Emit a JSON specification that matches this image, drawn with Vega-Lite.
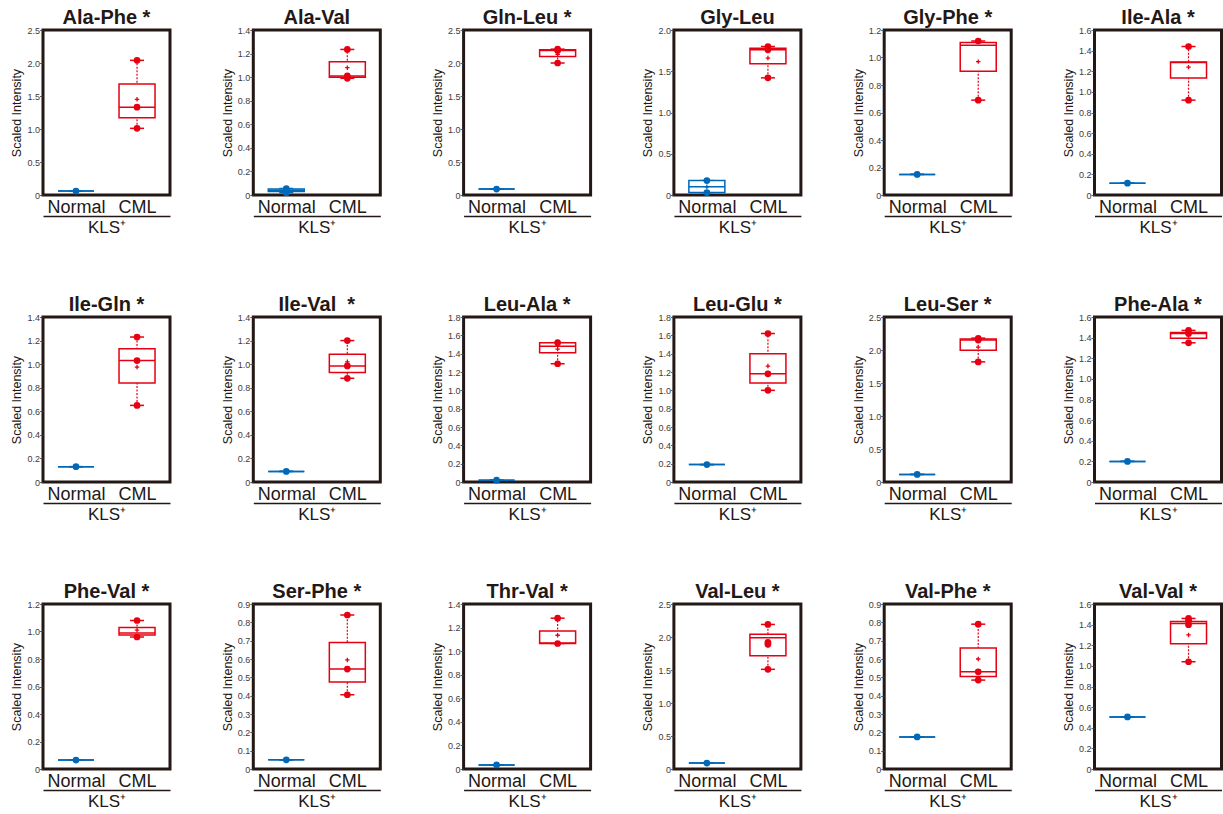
{
  "$schema": "https://vega.github.io/schema/vega-lite/v6.json",
  "background": "white",
  "padding": {"left": 9, "top": 6, "right": 5, "bottom": 2},
  "datasets": {
    "boxes": [
      {"panel": "Ala-Phe", "group": "Normal", "min": 0.06, "q1": 0.06, "median": 0.06, "q3": 0.06, "max": 0.06, "mean": 0.06},
      {"panel": "Ala-Phe", "group": "CML", "min": 1.01, "q1": 1.17, "median": 1.33, "q3": 1.68, "max": 2.04, "mean": 1.45},
      {"panel": "Ala-Val", "group": "Normal", "min": 0.02, "q1": 0.03, "median": 0.04, "q3": 0.05, "max": 0.055, "mean": 0.04},
      {"panel": "Ala-Val", "group": "CML", "min": 0.99, "q1": 1.0, "median": 1.01, "q3": 1.13, "max": 1.235, "mean": 1.08},
      {"panel": "Gln-Leu", "group": "Normal", "min": 0.09, "q1": 0.09, "median": 0.09, "q3": 0.09, "max": 0.09, "mean": 0.09},
      {"panel": "Gln-Leu", "group": "CML", "min": 2.0, "q1": 2.1, "median": 2.19, "q3": 2.2, "max": 2.21, "mean": 2.13},
      {"panel": "Gly-Leu", "group": "Normal", "min": 0.03, "q1": 0.03, "median": 0.1, "q3": 0.175, "max": 0.175, "mean": 0.1},
      {"panel": "Gly-Leu", "group": "CML", "min": 1.42, "q1": 1.59, "median": 1.76, "q3": 1.78, "max": 1.8, "mean": 1.66},
      {"panel": "Gly-Phe", "group": "Normal", "min": 0.15, "q1": 0.15, "median": 0.15, "q3": 0.15, "max": 0.15, "mean": 0.15},
      {"panel": "Gly-Phe", "group": "CML", "min": 0.69, "q1": 0.9, "median": 1.09, "q3": 1.11, "max": 1.12, "mean": 0.97},
      {"panel": "Ile-Ala", "group": "Normal", "min": 0.115, "q1": 0.115, "median": 0.115, "q3": 0.115, "max": 0.115, "mean": 0.115},
      {"panel": "Ile-Ala", "group": "CML", "min": 0.92, "q1": 1.135, "median": 1.285, "q3": 1.29, "max": 1.44, "mean": 1.24},
      {"panel": "Ile-Gln", "group": "Normal", "min": 0.13, "q1": 0.13, "median": 0.13, "q3": 0.13, "max": 0.13, "mean": 0.13},
      {"panel": "Ile-Gln", "group": "CML", "min": 0.65, "q1": 0.84, "median": 1.03, "q3": 1.13, "max": 1.23, "mean": 0.975},
      {"panel": "Ile-Val", "group": "Normal", "min": 0.09, "q1": 0.09, "median": 0.09, "q3": 0.09, "max": 0.09, "mean": 0.09},
      {"panel": "Ile-Val", "group": "CML", "min": 0.88, "q1": 0.93, "median": 0.985, "q3": 1.085, "max": 1.2, "mean": 1.02},
      {"panel": "Leu-Ala", "group": "Normal", "min": 0.02, "q1": 0.02, "median": 0.02, "q3": 0.02, "max": 0.02, "mean": 0.02},
      {"panel": "Leu-Ala", "group": "CML", "min": 1.29, "q1": 1.41, "median": 1.48, "q3": 1.52, "max": 1.52, "mean": 1.45},
      {"panel": "Leu-Glu", "group": "Normal", "min": 0.19, "q1": 0.19, "median": 0.19, "q3": 0.19, "max": 0.19, "mean": 0.19},
      {"panel": "Leu-Glu", "group": "CML", "min": 1.0, "q1": 1.08, "median": 1.18, "q3": 1.4, "max": 1.62, "mean": 1.265},
      {"panel": "Leu-Ser", "group": "Normal", "min": 0.115, "q1": 0.115, "median": 0.115, "q3": 0.115, "max": 0.115, "mean": 0.115},
      {"panel": "Leu-Ser", "group": "CML", "min": 1.82, "q1": 1.995, "median": 2.15, "q3": 2.165, "max": 2.18, "mean": 2.045},
      {"panel": "Phe-Ala", "group": "Normal", "min": 0.2, "q1": 0.2, "median": 0.2, "q3": 0.2, "max": 0.2, "mean": 0.2},
      {"panel": "Phe-Ala", "group": "CML", "min": 1.35, "q1": 1.395, "median": 1.44, "q3": 1.45, "max": 1.47, "mean": 1.42},
      {"panel": "Phe-Val", "group": "Normal", "min": 0.065, "q1": 0.065, "median": 0.065, "q3": 0.065, "max": 0.065, "mean": 0.065},
      {"panel": "Phe-Val", "group": "CML", "min": 0.96, "q1": 0.975, "median": 0.99, "q3": 1.03, "max": 1.08, "mean": 1.01},
      {"panel": "Ser-Phe", "group": "Normal", "min": 0.05, "q1": 0.05, "median": 0.05, "q3": 0.05, "max": 0.05, "mean": 0.05},
      {"panel": "Ser-Phe", "group": "CML", "min": 0.405, "q1": 0.475, "median": 0.545, "q3": 0.69, "max": 0.84, "mean": 0.595},
      {"panel": "Thr-Val", "group": "Normal", "min": 0.035, "q1": 0.035, "median": 0.035, "q3": 0.035, "max": 0.035, "mean": 0.035},
      {"panel": "Thr-Val", "group": "CML", "min": 1.065, "q1": 1.065, "median": 1.07, "q3": 1.17, "max": 1.28, "mean": 1.135},
      {"panel": "Val-Leu", "group": "Normal", "min": 0.09, "q1": 0.09, "median": 0.09, "q3": 0.09, "max": 0.09, "mean": 0.09},
      {"panel": "Val-Leu", "group": "CML", "min": 1.51, "q1": 1.715, "median": 1.99, "q3": 2.04, "max": 2.19, "mean": 1.87},
      {"panel": "Val-Phe", "group": "Normal", "min": 0.175, "q1": 0.175, "median": 0.175, "q3": 0.175, "max": 0.175, "mean": 0.175},
      {"panel": "Val-Phe", "group": "CML", "min": 0.485, "q1": 0.505, "median": 0.53, "q3": 0.66, "max": 0.79, "mean": 0.6},
      {"panel": "Val-Val", "group": "Normal", "min": 0.505, "q1": 0.505, "median": 0.505, "q3": 0.505, "max": 0.505, "mean": 0.505},
      {"panel": "Val-Val", "group": "CML", "min": 1.04, "q1": 1.215, "median": 1.41, "q3": 1.43, "max": 1.46, "mean": 1.3}
    ],
    "points": [
      {"panel": "Ala-Phe", "group": "Normal", "value": 0.06},
      {"panel": "Ala-Phe", "group": "CML", "value": 1.01},
      {"panel": "Ala-Phe", "group": "CML", "value": 1.33},
      {"panel": "Ala-Phe", "group": "CML", "value": 2.04},
      {"panel": "Ala-Val", "group": "Normal", "value": 0.02},
      {"panel": "Ala-Val", "group": "Normal", "value": 0.055},
      {"panel": "Ala-Val", "group": "CML", "value": 0.99},
      {"panel": "Ala-Val", "group": "CML", "value": 1.01},
      {"panel": "Ala-Val", "group": "CML", "value": 1.235},
      {"panel": "Gln-Leu", "group": "Normal", "value": 0.09},
      {"panel": "Gln-Leu", "group": "CML", "value": 2.0},
      {"panel": "Gln-Leu", "group": "CML", "value": 2.19},
      {"panel": "Gln-Leu", "group": "CML", "value": 2.21},
      {"panel": "Gly-Leu", "group": "Normal", "value": 0.03},
      {"panel": "Gly-Leu", "group": "Normal", "value": 0.175},
      {"panel": "Gly-Leu", "group": "CML", "value": 1.42},
      {"panel": "Gly-Leu", "group": "CML", "value": 1.76},
      {"panel": "Gly-Leu", "group": "CML", "value": 1.8},
      {"panel": "Gly-Phe", "group": "Normal", "value": 0.15},
      {"panel": "Gly-Phe", "group": "CML", "value": 0.69},
      {"panel": "Gly-Phe", "group": "CML", "value": 1.12},
      {"panel": "Ile-Ala", "group": "Normal", "value": 0.115},
      {"panel": "Ile-Ala", "group": "CML", "value": 0.92},
      {"panel": "Ile-Ala", "group": "CML", "value": 1.44},
      {"panel": "Ile-Gln", "group": "Normal", "value": 0.13},
      {"panel": "Ile-Gln", "group": "CML", "value": 0.65},
      {"panel": "Ile-Gln", "group": "CML", "value": 1.03},
      {"panel": "Ile-Gln", "group": "CML", "value": 1.23},
      {"panel": "Ile-Val", "group": "Normal", "value": 0.09},
      {"panel": "Ile-Val", "group": "CML", "value": 0.88},
      {"panel": "Ile-Val", "group": "CML", "value": 0.985},
      {"panel": "Ile-Val", "group": "CML", "value": 1.2},
      {"panel": "Leu-Ala", "group": "Normal", "value": 0.02},
      {"panel": "Leu-Ala", "group": "CML", "value": 1.29},
      {"panel": "Leu-Ala", "group": "CML", "value": 1.52},
      {"panel": "Leu-Glu", "group": "Normal", "value": 0.19},
      {"panel": "Leu-Glu", "group": "CML", "value": 1.0},
      {"panel": "Leu-Glu", "group": "CML", "value": 1.18},
      {"panel": "Leu-Glu", "group": "CML", "value": 1.62},
      {"panel": "Leu-Ser", "group": "Normal", "value": 0.115},
      {"panel": "Leu-Ser", "group": "CML", "value": 1.82},
      {"panel": "Leu-Ser", "group": "CML", "value": 2.15},
      {"panel": "Leu-Ser", "group": "CML", "value": 2.175},
      {"panel": "Phe-Ala", "group": "Normal", "value": 0.2},
      {"panel": "Phe-Ala", "group": "CML", "value": 1.35},
      {"panel": "Phe-Ala", "group": "CML", "value": 1.44},
      {"panel": "Phe-Ala", "group": "CML", "value": 1.47},
      {"panel": "Phe-Val", "group": "Normal", "value": 0.065},
      {"panel": "Phe-Val", "group": "CML", "value": 0.96},
      {"panel": "Phe-Val", "group": "CML", "value": 1.08},
      {"panel": "Ser-Phe", "group": "Normal", "value": 0.05},
      {"panel": "Ser-Phe", "group": "CML", "value": 0.405},
      {"panel": "Ser-Phe", "group": "CML", "value": 0.545},
      {"panel": "Ser-Phe", "group": "CML", "value": 0.84},
      {"panel": "Thr-Val", "group": "Normal", "value": 0.035},
      {"panel": "Thr-Val", "group": "CML", "value": 1.065},
      {"panel": "Thr-Val", "group": "CML", "value": 1.28},
      {"panel": "Val-Leu", "group": "Normal", "value": 0.09},
      {"panel": "Val-Leu", "group": "CML", "value": 1.51},
      {"panel": "Val-Leu", "group": "CML", "value": 1.89},
      {"panel": "Val-Leu", "group": "CML", "value": 1.92},
      {"panel": "Val-Leu", "group": "CML", "value": 2.19},
      {"panel": "Val-Phe", "group": "Normal", "value": 0.175},
      {"panel": "Val-Phe", "group": "CML", "value": 0.485},
      {"panel": "Val-Phe", "group": "CML", "value": 0.53},
      {"panel": "Val-Phe", "group": "CML", "value": 0.79},
      {"panel": "Val-Val", "group": "Normal", "value": 0.505},
      {"panel": "Val-Val", "group": "CML", "value": 1.04},
      {"panel": "Val-Val", "group": "CML", "value": 1.4},
      {"panel": "Val-Val", "group": "CML", "value": 1.44},
      {"panel": "Val-Val", "group": "CML", "value": 1.46}
    ]
  },
  "columns": 6,
  "spacing": {"row": 122, "column": 83.3},
  "bounds": "flush",
  "resolve": {"scale": {"x": "independent", "y": "independent"}, "axis": {"x": "independent", "y": "independent"}},
  "concat": [
    {"width": 127, "height": 165, "title": "Ala-Phe *", "data": {"name": "boxes"}, "transform": [{"filter": "datum.panel === 'Ala-Phe'"}],
     "encoding": {"x": {"field": "group", "type": "nominal", "title": "KLS⁺", "scale": {"type": "point", "domain": ["Normal", "CML"], "padding": 0.54}}, "color": {"field": "group", "type": "nominal", "scale": {"domain": ["Normal", "CML"], "range": ["#0068B7", "#E60012"]}, "legend": null}},
     "layer": [
      {"mark": {"type": "rule", "strokeDash": [2, 1.5], "strokeWidth": 1.2}, "encoding": {"y": {"field": "min", "type": "quantitative", "title": "Scaled Intensity", "scale": {"domain": [0, 2.5], "nice": false}, "axis": {"values": [0, 0.5, 1, 1.5, 2, 2.5]}}, "y2": {"field": "max"}}},
      {"mark": {"type": "tick", "thickness": 1.5, "size": 14}, "encoding": {"y": {"field": "min", "type": "quantitative", "title": "Scaled Intensity", "axis": {"values": [0, 0.5, 1, 1.5, 2, 2.5]}}}},
      {"mark": {"type": "tick", "thickness": 1.5, "size": 14}, "encoding": {"y": {"field": "max", "type": "quantitative", "title": "Scaled Intensity", "axis": {"values": [0, 0.5, 1, 1.5, 2, 2.5]}}}},
      {"mark": {"type": "bar", "filled": false, "fill": "white", "strokeWidth": 1.5, "width": 36}, "encoding": {"y": {"field": "q1", "type": "quantitative", "title": "Scaled Intensity", "axis": {"values": [0, 0.5, 1, 1.5, 2, 2.5]}}, "y2": {"field": "q3"}}},
      {"mark": {"type": "tick", "thickness": 1.5, "size": 36}, "encoding": {"y": {"field": "median", "type": "quantitative", "title": "Scaled Intensity", "axis": {"values": [0, 0.5, 1, 1.5, 2, 2.5]}}}},
      {"mark": {"type": "point", "shape": "M-1,0L1,0M0,-1L0,1", "size": 20, "strokeWidth": 1.3}, "encoding": {"y": {"field": "mean", "type": "quantitative", "title": "Scaled Intensity", "axis": {"values": [0, 0.5, 1, 1.5, 2, 2.5]}}}},
      {"data": {"name": "points"}, "transform": [{"filter": "datum.panel === 'Ala-Phe'"}], "mark": {"type": "point", "filled": true, "size": 45}, "encoding": {"y": {"field": "value", "type": "quantitative", "title": "Scaled Intensity", "axis": {"values": [0, 0.5, 1, 1.5, 2, 2.5]}}}}
     ]},
    {"width": 127, "height": 165, "title": "Ala-Val", "data": {"name": "boxes"}, "transform": [{"filter": "datum.panel === 'Ala-Val'"}],
     "encoding": {"x": {"field": "group", "type": "nominal", "title": "KLS⁺", "scale": {"type": "point", "domain": ["Normal", "CML"], "padding": 0.54}}, "color": {"field": "group", "type": "nominal", "scale": {"domain": ["Normal", "CML"], "range": ["#0068B7", "#E60012"]}, "legend": null}},
     "layer": [
      {"mark": {"type": "rule", "strokeDash": [2, 1.5], "strokeWidth": 1.2}, "encoding": {"y": {"field": "min", "type": "quantitative", "title": "Scaled Intensity", "scale": {"domain": [0, 1.4], "nice": false}, "axis": {"values": [0, 0.2, 0.4, 0.6, 0.8, 1, 1.2, 1.4]}}, "y2": {"field": "max"}}},
      {"mark": {"type": "tick", "thickness": 1.5, "size": 14}, "encoding": {"y": {"field": "min", "type": "quantitative", "title": "Scaled Intensity", "axis": {"values": [0, 0.2, 0.4, 0.6, 0.8, 1, 1.2, 1.4]}}}},
      {"mark": {"type": "tick", "thickness": 1.5, "size": 14}, "encoding": {"y": {"field": "max", "type": "quantitative", "title": "Scaled Intensity", "axis": {"values": [0, 0.2, 0.4, 0.6, 0.8, 1, 1.2, 1.4]}}}},
      {"mark": {"type": "bar", "filled": false, "fill": "white", "strokeWidth": 1.5, "width": 36}, "encoding": {"y": {"field": "q1", "type": "quantitative", "title": "Scaled Intensity", "axis": {"values": [0, 0.2, 0.4, 0.6, 0.8, 1, 1.2, 1.4]}}, "y2": {"field": "q3"}}},
      {"mark": {"type": "tick", "thickness": 1.5, "size": 36}, "encoding": {"y": {"field": "median", "type": "quantitative", "title": "Scaled Intensity", "axis": {"values": [0, 0.2, 0.4, 0.6, 0.8, 1, 1.2, 1.4]}}}},
      {"mark": {"type": "point", "shape": "M-1,0L1,0M0,-1L0,1", "size": 20, "strokeWidth": 1.3}, "encoding": {"y": {"field": "mean", "type": "quantitative", "title": "Scaled Intensity", "axis": {"values": [0, 0.2, 0.4, 0.6, 0.8, 1, 1.2, 1.4]}}}},
      {"data": {"name": "points"}, "transform": [{"filter": "datum.panel === 'Ala-Val'"}], "mark": {"type": "point", "filled": true, "size": 45}, "encoding": {"y": {"field": "value", "type": "quantitative", "title": "Scaled Intensity", "axis": {"values": [0, 0.2, 0.4, 0.6, 0.8, 1, 1.2, 1.4]}}}}
     ]},
    {"width": 127, "height": 165, "title": "Gln-Leu *", "data": {"name": "boxes"}, "transform": [{"filter": "datum.panel === 'Gln-Leu'"}],
     "encoding": {"x": {"field": "group", "type": "nominal", "title": "KLS⁺", "scale": {"type": "point", "domain": ["Normal", "CML"], "padding": 0.54}}, "color": {"field": "group", "type": "nominal", "scale": {"domain": ["Normal", "CML"], "range": ["#0068B7", "#E60012"]}, "legend": null}},
     "layer": [
      {"mark": {"type": "rule", "strokeDash": [2, 1.5], "strokeWidth": 1.2}, "encoding": {"y": {"field": "min", "type": "quantitative", "title": "Scaled Intensity", "scale": {"domain": [0, 2.5], "nice": false}, "axis": {"values": [0, 0.5, 1, 1.5, 2, 2.5]}}, "y2": {"field": "max"}}},
      {"mark": {"type": "tick", "thickness": 1.5, "size": 14}, "encoding": {"y": {"field": "min", "type": "quantitative", "title": "Scaled Intensity", "axis": {"values": [0, 0.5, 1, 1.5, 2, 2.5]}}}},
      {"mark": {"type": "tick", "thickness": 1.5, "size": 14}, "encoding": {"y": {"field": "max", "type": "quantitative", "title": "Scaled Intensity", "axis": {"values": [0, 0.5, 1, 1.5, 2, 2.5]}}}},
      {"mark": {"type": "bar", "filled": false, "fill": "white", "strokeWidth": 1.5, "width": 36}, "encoding": {"y": {"field": "q1", "type": "quantitative", "title": "Scaled Intensity", "axis": {"values": [0, 0.5, 1, 1.5, 2, 2.5]}}, "y2": {"field": "q3"}}},
      {"mark": {"type": "tick", "thickness": 1.5, "size": 36}, "encoding": {"y": {"field": "median", "type": "quantitative", "title": "Scaled Intensity", "axis": {"values": [0, 0.5, 1, 1.5, 2, 2.5]}}}},
      {"mark": {"type": "point", "shape": "M-1,0L1,0M0,-1L0,1", "size": 20, "strokeWidth": 1.3}, "encoding": {"y": {"field": "mean", "type": "quantitative", "title": "Scaled Intensity", "axis": {"values": [0, 0.5, 1, 1.5, 2, 2.5]}}}},
      {"data": {"name": "points"}, "transform": [{"filter": "datum.panel === 'Gln-Leu'"}], "mark": {"type": "point", "filled": true, "size": 45}, "encoding": {"y": {"field": "value", "type": "quantitative", "title": "Scaled Intensity", "axis": {"values": [0, 0.5, 1, 1.5, 2, 2.5]}}}}
     ]},
    {"width": 127, "height": 165, "title": "Gly-Leu", "data": {"name": "boxes"}, "transform": [{"filter": "datum.panel === 'Gly-Leu'"}],
     "encoding": {"x": {"field": "group", "type": "nominal", "title": "KLS⁺", "scale": {"type": "point", "domain": ["Normal", "CML"], "padding": 0.54}}, "color": {"field": "group", "type": "nominal", "scale": {"domain": ["Normal", "CML"], "range": ["#0068B7", "#E60012"]}, "legend": null}},
     "layer": [
      {"mark": {"type": "rule", "strokeDash": [2, 1.5], "strokeWidth": 1.2}, "encoding": {"y": {"field": "min", "type": "quantitative", "title": "Scaled Intensity", "scale": {"domain": [0, 2.0], "nice": false}, "axis": {"values": [0, 0.5, 1, 1.5, 2]}}, "y2": {"field": "max"}}},
      {"mark": {"type": "tick", "thickness": 1.5, "size": 14}, "encoding": {"y": {"field": "min", "type": "quantitative", "title": "Scaled Intensity", "axis": {"values": [0, 0.5, 1, 1.5, 2]}}}},
      {"mark": {"type": "tick", "thickness": 1.5, "size": 14}, "encoding": {"y": {"field": "max", "type": "quantitative", "title": "Scaled Intensity", "axis": {"values": [0, 0.5, 1, 1.5, 2]}}}},
      {"mark": {"type": "bar", "filled": false, "fill": "white", "strokeWidth": 1.5, "width": 36}, "encoding": {"y": {"field": "q1", "type": "quantitative", "title": "Scaled Intensity", "axis": {"values": [0, 0.5, 1, 1.5, 2]}}, "y2": {"field": "q3"}}},
      {"mark": {"type": "tick", "thickness": 1.5, "size": 36}, "encoding": {"y": {"field": "median", "type": "quantitative", "title": "Scaled Intensity", "axis": {"values": [0, 0.5, 1, 1.5, 2]}}}},
      {"mark": {"type": "point", "shape": "M-1,0L1,0M0,-1L0,1", "size": 20, "strokeWidth": 1.3}, "encoding": {"y": {"field": "mean", "type": "quantitative", "title": "Scaled Intensity", "axis": {"values": [0, 0.5, 1, 1.5, 2]}}}},
      {"data": {"name": "points"}, "transform": [{"filter": "datum.panel === 'Gly-Leu'"}], "mark": {"type": "point", "filled": true, "size": 45}, "encoding": {"y": {"field": "value", "type": "quantitative", "title": "Scaled Intensity", "axis": {"values": [0, 0.5, 1, 1.5, 2]}}}}
     ]},
    {"width": 127, "height": 165, "title": "Gly-Phe *", "data": {"name": "boxes"}, "transform": [{"filter": "datum.panel === 'Gly-Phe'"}],
     "encoding": {"x": {"field": "group", "type": "nominal", "title": "KLS⁺", "scale": {"type": "point", "domain": ["Normal", "CML"], "padding": 0.54}}, "color": {"field": "group", "type": "nominal", "scale": {"domain": ["Normal", "CML"], "range": ["#0068B7", "#E60012"]}, "legend": null}},
     "layer": [
      {"mark": {"type": "rule", "strokeDash": [2, 1.5], "strokeWidth": 1.2}, "encoding": {"y": {"field": "min", "type": "quantitative", "title": "Scaled Intensity", "scale": {"domain": [0, 1.2], "nice": false}, "axis": {"values": [0, 0.2, 0.4, 0.6, 0.8, 1, 1.2]}}, "y2": {"field": "max"}}},
      {"mark": {"type": "tick", "thickness": 1.5, "size": 14}, "encoding": {"y": {"field": "min", "type": "quantitative", "title": "Scaled Intensity", "axis": {"values": [0, 0.2, 0.4, 0.6, 0.8, 1, 1.2]}}}},
      {"mark": {"type": "tick", "thickness": 1.5, "size": 14}, "encoding": {"y": {"field": "max", "type": "quantitative", "title": "Scaled Intensity", "axis": {"values": [0, 0.2, 0.4, 0.6, 0.8, 1, 1.2]}}}},
      {"mark": {"type": "bar", "filled": false, "fill": "white", "strokeWidth": 1.5, "width": 36}, "encoding": {"y": {"field": "q1", "type": "quantitative", "title": "Scaled Intensity", "axis": {"values": [0, 0.2, 0.4, 0.6, 0.8, 1, 1.2]}}, "y2": {"field": "q3"}}},
      {"mark": {"type": "tick", "thickness": 1.5, "size": 36}, "encoding": {"y": {"field": "median", "type": "quantitative", "title": "Scaled Intensity", "axis": {"values": [0, 0.2, 0.4, 0.6, 0.8, 1, 1.2]}}}},
      {"mark": {"type": "point", "shape": "M-1,0L1,0M0,-1L0,1", "size": 20, "strokeWidth": 1.3}, "encoding": {"y": {"field": "mean", "type": "quantitative", "title": "Scaled Intensity", "axis": {"values": [0, 0.2, 0.4, 0.6, 0.8, 1, 1.2]}}}},
      {"data": {"name": "points"}, "transform": [{"filter": "datum.panel === 'Gly-Phe'"}], "mark": {"type": "point", "filled": true, "size": 45}, "encoding": {"y": {"field": "value", "type": "quantitative", "title": "Scaled Intensity", "axis": {"values": [0, 0.2, 0.4, 0.6, 0.8, 1, 1.2]}}}}
     ]},
    {"width": 127, "height": 165, "title": "Ile-Ala *", "data": {"name": "boxes"}, "transform": [{"filter": "datum.panel === 'Ile-Ala'"}],
     "encoding": {"x": {"field": "group", "type": "nominal", "title": "KLS⁺", "scale": {"type": "point", "domain": ["Normal", "CML"], "padding": 0.54}}, "color": {"field": "group", "type": "nominal", "scale": {"domain": ["Normal", "CML"], "range": ["#0068B7", "#E60012"]}, "legend": null}},
     "layer": [
      {"mark": {"type": "rule", "strokeDash": [2, 1.5], "strokeWidth": 1.2}, "encoding": {"y": {"field": "min", "type": "quantitative", "title": "Scaled Intensity", "scale": {"domain": [0, 1.6], "nice": false}, "axis": {"values": [0, 0.2, 0.4, 0.6, 0.8, 1, 1.2, 1.4, 1.6]}}, "y2": {"field": "max"}}},
      {"mark": {"type": "tick", "thickness": 1.5, "size": 14}, "encoding": {"y": {"field": "min", "type": "quantitative", "title": "Scaled Intensity", "axis": {"values": [0, 0.2, 0.4, 0.6, 0.8, 1, 1.2, 1.4, 1.6]}}}},
      {"mark": {"type": "tick", "thickness": 1.5, "size": 14}, "encoding": {"y": {"field": "max", "type": "quantitative", "title": "Scaled Intensity", "axis": {"values": [0, 0.2, 0.4, 0.6, 0.8, 1, 1.2, 1.4, 1.6]}}}},
      {"mark": {"type": "bar", "filled": false, "fill": "white", "strokeWidth": 1.5, "width": 36}, "encoding": {"y": {"field": "q1", "type": "quantitative", "title": "Scaled Intensity", "axis": {"values": [0, 0.2, 0.4, 0.6, 0.8, 1, 1.2, 1.4, 1.6]}}, "y2": {"field": "q3"}}},
      {"mark": {"type": "tick", "thickness": 1.5, "size": 36}, "encoding": {"y": {"field": "median", "type": "quantitative", "title": "Scaled Intensity", "axis": {"values": [0, 0.2, 0.4, 0.6, 0.8, 1, 1.2, 1.4, 1.6]}}}},
      {"mark": {"type": "point", "shape": "M-1,0L1,0M0,-1L0,1", "size": 20, "strokeWidth": 1.3}, "encoding": {"y": {"field": "mean", "type": "quantitative", "title": "Scaled Intensity", "axis": {"values": [0, 0.2, 0.4, 0.6, 0.8, 1, 1.2, 1.4, 1.6]}}}},
      {"data": {"name": "points"}, "transform": [{"filter": "datum.panel === 'Ile-Ala'"}], "mark": {"type": "point", "filled": true, "size": 45}, "encoding": {"y": {"field": "value", "type": "quantitative", "title": "Scaled Intensity", "axis": {"values": [0, 0.2, 0.4, 0.6, 0.8, 1, 1.2, 1.4, 1.6]}}}}
     ]},
    {"width": 127, "height": 165, "title": "Ile-Gln *", "data": {"name": "boxes"}, "transform": [{"filter": "datum.panel === 'Ile-Gln'"}],
     "encoding": {"x": {"field": "group", "type": "nominal", "title": "KLS⁺", "scale": {"type": "point", "domain": ["Normal", "CML"], "padding": 0.54}}, "color": {"field": "group", "type": "nominal", "scale": {"domain": ["Normal", "CML"], "range": ["#0068B7", "#E60012"]}, "legend": null}},
     "layer": [
      {"mark": {"type": "rule", "strokeDash": [2, 1.5], "strokeWidth": 1.2}, "encoding": {"y": {"field": "min", "type": "quantitative", "title": "Scaled Intensity", "scale": {"domain": [0, 1.4], "nice": false}, "axis": {"values": [0, 0.2, 0.4, 0.6, 0.8, 1, 1.2, 1.4]}}, "y2": {"field": "max"}}},
      {"mark": {"type": "tick", "thickness": 1.5, "size": 14}, "encoding": {"y": {"field": "min", "type": "quantitative", "title": "Scaled Intensity", "axis": {"values": [0, 0.2, 0.4, 0.6, 0.8, 1, 1.2, 1.4]}}}},
      {"mark": {"type": "tick", "thickness": 1.5, "size": 14}, "encoding": {"y": {"field": "max", "type": "quantitative", "title": "Scaled Intensity", "axis": {"values": [0, 0.2, 0.4, 0.6, 0.8, 1, 1.2, 1.4]}}}},
      {"mark": {"type": "bar", "filled": false, "fill": "white", "strokeWidth": 1.5, "width": 36}, "encoding": {"y": {"field": "q1", "type": "quantitative", "title": "Scaled Intensity", "axis": {"values": [0, 0.2, 0.4, 0.6, 0.8, 1, 1.2, 1.4]}}, "y2": {"field": "q3"}}},
      {"mark": {"type": "tick", "thickness": 1.5, "size": 36}, "encoding": {"y": {"field": "median", "type": "quantitative", "title": "Scaled Intensity", "axis": {"values": [0, 0.2, 0.4, 0.6, 0.8, 1, 1.2, 1.4]}}}},
      {"mark": {"type": "point", "shape": "M-1,0L1,0M0,-1L0,1", "size": 20, "strokeWidth": 1.3}, "encoding": {"y": {"field": "mean", "type": "quantitative", "title": "Scaled Intensity", "axis": {"values": [0, 0.2, 0.4, 0.6, 0.8, 1, 1.2, 1.4]}}}},
      {"data": {"name": "points"}, "transform": [{"filter": "datum.panel === 'Ile-Gln'"}], "mark": {"type": "point", "filled": true, "size": 45}, "encoding": {"y": {"field": "value", "type": "quantitative", "title": "Scaled Intensity", "axis": {"values": [0, 0.2, 0.4, 0.6, 0.8, 1, 1.2, 1.4]}}}}
     ]},
    {"width": 127, "height": 165, "title": "Ile-Val\u00a0 *", "data": {"name": "boxes"}, "transform": [{"filter": "datum.panel === 'Ile-Val'"}],
     "encoding": {"x": {"field": "group", "type": "nominal", "title": "KLS⁺", "scale": {"type": "point", "domain": ["Normal", "CML"], "padding": 0.54}}, "color": {"field": "group", "type": "nominal", "scale": {"domain": ["Normal", "CML"], "range": ["#0068B7", "#E60012"]}, "legend": null}},
     "layer": [
      {"mark": {"type": "rule", "strokeDash": [2, 1.5], "strokeWidth": 1.2}, "encoding": {"y": {"field": "min", "type": "quantitative", "title": "Scaled Intensity", "scale": {"domain": [0, 1.4], "nice": false}, "axis": {"values": [0, 0.2, 0.4, 0.6, 0.8, 1, 1.2, 1.4]}}, "y2": {"field": "max"}}},
      {"mark": {"type": "tick", "thickness": 1.5, "size": 14}, "encoding": {"y": {"field": "min", "type": "quantitative", "title": "Scaled Intensity", "axis": {"values": [0, 0.2, 0.4, 0.6, 0.8, 1, 1.2, 1.4]}}}},
      {"mark": {"type": "tick", "thickness": 1.5, "size": 14}, "encoding": {"y": {"field": "max", "type": "quantitative", "title": "Scaled Intensity", "axis": {"values": [0, 0.2, 0.4, 0.6, 0.8, 1, 1.2, 1.4]}}}},
      {"mark": {"type": "bar", "filled": false, "fill": "white", "strokeWidth": 1.5, "width": 36}, "encoding": {"y": {"field": "q1", "type": "quantitative", "title": "Scaled Intensity", "axis": {"values": [0, 0.2, 0.4, 0.6, 0.8, 1, 1.2, 1.4]}}, "y2": {"field": "q3"}}},
      {"mark": {"type": "tick", "thickness": 1.5, "size": 36}, "encoding": {"y": {"field": "median", "type": "quantitative", "title": "Scaled Intensity", "axis": {"values": [0, 0.2, 0.4, 0.6, 0.8, 1, 1.2, 1.4]}}}},
      {"mark": {"type": "point", "shape": "M-1,0L1,0M0,-1L0,1", "size": 20, "strokeWidth": 1.3}, "encoding": {"y": {"field": "mean", "type": "quantitative", "title": "Scaled Intensity", "axis": {"values": [0, 0.2, 0.4, 0.6, 0.8, 1, 1.2, 1.4]}}}},
      {"data": {"name": "points"}, "transform": [{"filter": "datum.panel === 'Ile-Val'"}], "mark": {"type": "point", "filled": true, "size": 45}, "encoding": {"y": {"field": "value", "type": "quantitative", "title": "Scaled Intensity", "axis": {"values": [0, 0.2, 0.4, 0.6, 0.8, 1, 1.2, 1.4]}}}}
     ]},
    {"width": 127, "height": 165, "title": "Leu-Ala *", "data": {"name": "boxes"}, "transform": [{"filter": "datum.panel === 'Leu-Ala'"}],
     "encoding": {"x": {"field": "group", "type": "nominal", "title": "KLS⁺", "scale": {"type": "point", "domain": ["Normal", "CML"], "padding": 0.54}}, "color": {"field": "group", "type": "nominal", "scale": {"domain": ["Normal", "CML"], "range": ["#0068B7", "#E60012"]}, "legend": null}},
     "layer": [
      {"mark": {"type": "rule", "strokeDash": [2, 1.5], "strokeWidth": 1.2}, "encoding": {"y": {"field": "min", "type": "quantitative", "title": "Scaled Intensity", "scale": {"domain": [0, 1.8], "nice": false}, "axis": {"values": [0, 0.2, 0.4, 0.6, 0.8, 1, 1.2, 1.4, 1.6, 1.8]}}, "y2": {"field": "max"}}},
      {"mark": {"type": "tick", "thickness": 1.5, "size": 14}, "encoding": {"y": {"field": "min", "type": "quantitative", "title": "Scaled Intensity", "axis": {"values": [0, 0.2, 0.4, 0.6, 0.8, 1, 1.2, 1.4, 1.6, 1.8]}}}},
      {"mark": {"type": "tick", "thickness": 1.5, "size": 14}, "encoding": {"y": {"field": "max", "type": "quantitative", "title": "Scaled Intensity", "axis": {"values": [0, 0.2, 0.4, 0.6, 0.8, 1, 1.2, 1.4, 1.6, 1.8]}}}},
      {"mark": {"type": "bar", "filled": false, "fill": "white", "strokeWidth": 1.5, "width": 36}, "encoding": {"y": {"field": "q1", "type": "quantitative", "title": "Scaled Intensity", "axis": {"values": [0, 0.2, 0.4, 0.6, 0.8, 1, 1.2, 1.4, 1.6, 1.8]}}, "y2": {"field": "q3"}}},
      {"mark": {"type": "tick", "thickness": 1.5, "size": 36}, "encoding": {"y": {"field": "median", "type": "quantitative", "title": "Scaled Intensity", "axis": {"values": [0, 0.2, 0.4, 0.6, 0.8, 1, 1.2, 1.4, 1.6, 1.8]}}}},
      {"mark": {"type": "point", "shape": "M-1,0L1,0M0,-1L0,1", "size": 20, "strokeWidth": 1.3}, "encoding": {"y": {"field": "mean", "type": "quantitative", "title": "Scaled Intensity", "axis": {"values": [0, 0.2, 0.4, 0.6, 0.8, 1, 1.2, 1.4, 1.6, 1.8]}}}},
      {"data": {"name": "points"}, "transform": [{"filter": "datum.panel === 'Leu-Ala'"}], "mark": {"type": "point", "filled": true, "size": 45}, "encoding": {"y": {"field": "value", "type": "quantitative", "title": "Scaled Intensity", "axis": {"values": [0, 0.2, 0.4, 0.6, 0.8, 1, 1.2, 1.4, 1.6, 1.8]}}}}
     ]},
    {"width": 127, "height": 165, "title": "Leu-Glu *", "data": {"name": "boxes"}, "transform": [{"filter": "datum.panel === 'Leu-Glu'"}],
     "encoding": {"x": {"field": "group", "type": "nominal", "title": "KLS⁺", "scale": {"type": "point", "domain": ["Normal", "CML"], "padding": 0.54}}, "color": {"field": "group", "type": "nominal", "scale": {"domain": ["Normal", "CML"], "range": ["#0068B7", "#E60012"]}, "legend": null}},
     "layer": [
      {"mark": {"type": "rule", "strokeDash": [2, 1.5], "strokeWidth": 1.2}, "encoding": {"y": {"field": "min", "type": "quantitative", "title": "Scaled Intensity", "scale": {"domain": [0, 1.8], "nice": false}, "axis": {"values": [0, 0.2, 0.4, 0.6, 0.8, 1, 1.2, 1.4, 1.6, 1.8]}}, "y2": {"field": "max"}}},
      {"mark": {"type": "tick", "thickness": 1.5, "size": 14}, "encoding": {"y": {"field": "min", "type": "quantitative", "title": "Scaled Intensity", "axis": {"values": [0, 0.2, 0.4, 0.6, 0.8, 1, 1.2, 1.4, 1.6, 1.8]}}}},
      {"mark": {"type": "tick", "thickness": 1.5, "size": 14}, "encoding": {"y": {"field": "max", "type": "quantitative", "title": "Scaled Intensity", "axis": {"values": [0, 0.2, 0.4, 0.6, 0.8, 1, 1.2, 1.4, 1.6, 1.8]}}}},
      {"mark": {"type": "bar", "filled": false, "fill": "white", "strokeWidth": 1.5, "width": 36}, "encoding": {"y": {"field": "q1", "type": "quantitative", "title": "Scaled Intensity", "axis": {"values": [0, 0.2, 0.4, 0.6, 0.8, 1, 1.2, 1.4, 1.6, 1.8]}}, "y2": {"field": "q3"}}},
      {"mark": {"type": "tick", "thickness": 1.5, "size": 36}, "encoding": {"y": {"field": "median", "type": "quantitative", "title": "Scaled Intensity", "axis": {"values": [0, 0.2, 0.4, 0.6, 0.8, 1, 1.2, 1.4, 1.6, 1.8]}}}},
      {"mark": {"type": "point", "shape": "M-1,0L1,0M0,-1L0,1", "size": 20, "strokeWidth": 1.3}, "encoding": {"y": {"field": "mean", "type": "quantitative", "title": "Scaled Intensity", "axis": {"values": [0, 0.2, 0.4, 0.6, 0.8, 1, 1.2, 1.4, 1.6, 1.8]}}}},
      {"data": {"name": "points"}, "transform": [{"filter": "datum.panel === 'Leu-Glu'"}], "mark": {"type": "point", "filled": true, "size": 45}, "encoding": {"y": {"field": "value", "type": "quantitative", "title": "Scaled Intensity", "axis": {"values": [0, 0.2, 0.4, 0.6, 0.8, 1, 1.2, 1.4, 1.6, 1.8]}}}}
     ]},
    {"width": 127, "height": 165, "title": "Leu-Ser *", "data": {"name": "boxes"}, "transform": [{"filter": "datum.panel === 'Leu-Ser'"}],
     "encoding": {"x": {"field": "group", "type": "nominal", "title": "KLS⁺", "scale": {"type": "point", "domain": ["Normal", "CML"], "padding": 0.54}}, "color": {"field": "group", "type": "nominal", "scale": {"domain": ["Normal", "CML"], "range": ["#0068B7", "#E60012"]}, "legend": null}},
     "layer": [
      {"mark": {"type": "rule", "strokeDash": [2, 1.5], "strokeWidth": 1.2}, "encoding": {"y": {"field": "min", "type": "quantitative", "title": "Scaled Intensity", "scale": {"domain": [0, 2.5], "nice": false}, "axis": {"values": [0, 0.5, 1, 1.5, 2, 2.5]}}, "y2": {"field": "max"}}},
      {"mark": {"type": "tick", "thickness": 1.5, "size": 14}, "encoding": {"y": {"field": "min", "type": "quantitative", "title": "Scaled Intensity", "axis": {"values": [0, 0.5, 1, 1.5, 2, 2.5]}}}},
      {"mark": {"type": "tick", "thickness": 1.5, "size": 14}, "encoding": {"y": {"field": "max", "type": "quantitative", "title": "Scaled Intensity", "axis": {"values": [0, 0.5, 1, 1.5, 2, 2.5]}}}},
      {"mark": {"type": "bar", "filled": false, "fill": "white", "strokeWidth": 1.5, "width": 36}, "encoding": {"y": {"field": "q1", "type": "quantitative", "title": "Scaled Intensity", "axis": {"values": [0, 0.5, 1, 1.5, 2, 2.5]}}, "y2": {"field": "q3"}}},
      {"mark": {"type": "tick", "thickness": 1.5, "size": 36}, "encoding": {"y": {"field": "median", "type": "quantitative", "title": "Scaled Intensity", "axis": {"values": [0, 0.5, 1, 1.5, 2, 2.5]}}}},
      {"mark": {"type": "point", "shape": "M-1,0L1,0M0,-1L0,1", "size": 20, "strokeWidth": 1.3}, "encoding": {"y": {"field": "mean", "type": "quantitative", "title": "Scaled Intensity", "axis": {"values": [0, 0.5, 1, 1.5, 2, 2.5]}}}},
      {"data": {"name": "points"}, "transform": [{"filter": "datum.panel === 'Leu-Ser'"}], "mark": {"type": "point", "filled": true, "size": 45}, "encoding": {"y": {"field": "value", "type": "quantitative", "title": "Scaled Intensity", "axis": {"values": [0, 0.5, 1, 1.5, 2, 2.5]}}}}
     ]},
    {"width": 127, "height": 165, "title": "Phe-Ala *", "data": {"name": "boxes"}, "transform": [{"filter": "datum.panel === 'Phe-Ala'"}],
     "encoding": {"x": {"field": "group", "type": "nominal", "title": "KLS⁺", "scale": {"type": "point", "domain": ["Normal", "CML"], "padding": 0.54}}, "color": {"field": "group", "type": "nominal", "scale": {"domain": ["Normal", "CML"], "range": ["#0068B7", "#E60012"]}, "legend": null}},
     "layer": [
      {"mark": {"type": "rule", "strokeDash": [2, 1.5], "strokeWidth": 1.2}, "encoding": {"y": {"field": "min", "type": "quantitative", "title": "Scaled Intensity", "scale": {"domain": [0, 1.6], "nice": false}, "axis": {"values": [0, 0.2, 0.4, 0.6, 0.8, 1, 1.2, 1.4, 1.6]}}, "y2": {"field": "max"}}},
      {"mark": {"type": "tick", "thickness": 1.5, "size": 14}, "encoding": {"y": {"field": "min", "type": "quantitative", "title": "Scaled Intensity", "axis": {"values": [0, 0.2, 0.4, 0.6, 0.8, 1, 1.2, 1.4, 1.6]}}}},
      {"mark": {"type": "tick", "thickness": 1.5, "size": 14}, "encoding": {"y": {"field": "max", "type": "quantitative", "title": "Scaled Intensity", "axis": {"values": [0, 0.2, 0.4, 0.6, 0.8, 1, 1.2, 1.4, 1.6]}}}},
      {"mark": {"type": "bar", "filled": false, "fill": "white", "strokeWidth": 1.5, "width": 36}, "encoding": {"y": {"field": "q1", "type": "quantitative", "title": "Scaled Intensity", "axis": {"values": [0, 0.2, 0.4, 0.6, 0.8, 1, 1.2, 1.4, 1.6]}}, "y2": {"field": "q3"}}},
      {"mark": {"type": "tick", "thickness": 1.5, "size": 36}, "encoding": {"y": {"field": "median", "type": "quantitative", "title": "Scaled Intensity", "axis": {"values": [0, 0.2, 0.4, 0.6, 0.8, 1, 1.2, 1.4, 1.6]}}}},
      {"mark": {"type": "point", "shape": "M-1,0L1,0M0,-1L0,1", "size": 20, "strokeWidth": 1.3}, "encoding": {"y": {"field": "mean", "type": "quantitative", "title": "Scaled Intensity", "axis": {"values": [0, 0.2, 0.4, 0.6, 0.8, 1, 1.2, 1.4, 1.6]}}}},
      {"data": {"name": "points"}, "transform": [{"filter": "datum.panel === 'Phe-Ala'"}], "mark": {"type": "point", "filled": true, "size": 45}, "encoding": {"y": {"field": "value", "type": "quantitative", "title": "Scaled Intensity", "axis": {"values": [0, 0.2, 0.4, 0.6, 0.8, 1, 1.2, 1.4, 1.6]}}}}
     ]},
    {"width": 127, "height": 165, "title": "Phe-Val *", "data": {"name": "boxes"}, "transform": [{"filter": "datum.panel === 'Phe-Val'"}],
     "encoding": {"x": {"field": "group", "type": "nominal", "title": "KLS⁺", "scale": {"type": "point", "domain": ["Normal", "CML"], "padding": 0.54}}, "color": {"field": "group", "type": "nominal", "scale": {"domain": ["Normal", "CML"], "range": ["#0068B7", "#E60012"]}, "legend": null}},
     "layer": [
      {"mark": {"type": "rule", "strokeDash": [2, 1.5], "strokeWidth": 1.2}, "encoding": {"y": {"field": "min", "type": "quantitative", "title": "Scaled Intensity", "scale": {"domain": [0, 1.2], "nice": false}, "axis": {"values": [0, 0.2, 0.4, 0.6, 0.8, 1, 1.2]}}, "y2": {"field": "max"}}},
      {"mark": {"type": "tick", "thickness": 1.5, "size": 14}, "encoding": {"y": {"field": "min", "type": "quantitative", "title": "Scaled Intensity", "axis": {"values": [0, 0.2, 0.4, 0.6, 0.8, 1, 1.2]}}}},
      {"mark": {"type": "tick", "thickness": 1.5, "size": 14}, "encoding": {"y": {"field": "max", "type": "quantitative", "title": "Scaled Intensity", "axis": {"values": [0, 0.2, 0.4, 0.6, 0.8, 1, 1.2]}}}},
      {"mark": {"type": "bar", "filled": false, "fill": "white", "strokeWidth": 1.5, "width": 36}, "encoding": {"y": {"field": "q1", "type": "quantitative", "title": "Scaled Intensity", "axis": {"values": [0, 0.2, 0.4, 0.6, 0.8, 1, 1.2]}}, "y2": {"field": "q3"}}},
      {"mark": {"type": "tick", "thickness": 1.5, "size": 36}, "encoding": {"y": {"field": "median", "type": "quantitative", "title": "Scaled Intensity", "axis": {"values": [0, 0.2, 0.4, 0.6, 0.8, 1, 1.2]}}}},
      {"mark": {"type": "point", "shape": "M-1,0L1,0M0,-1L0,1", "size": 20, "strokeWidth": 1.3}, "encoding": {"y": {"field": "mean", "type": "quantitative", "title": "Scaled Intensity", "axis": {"values": [0, 0.2, 0.4, 0.6, 0.8, 1, 1.2]}}}},
      {"data": {"name": "points"}, "transform": [{"filter": "datum.panel === 'Phe-Val'"}], "mark": {"type": "point", "filled": true, "size": 45}, "encoding": {"y": {"field": "value", "type": "quantitative", "title": "Scaled Intensity", "axis": {"values": [0, 0.2, 0.4, 0.6, 0.8, 1, 1.2]}}}}
     ]},
    {"width": 127, "height": 165, "title": "Ser-Phe *", "data": {"name": "boxes"}, "transform": [{"filter": "datum.panel === 'Ser-Phe'"}],
     "encoding": {"x": {"field": "group", "type": "nominal", "title": "KLS⁺", "scale": {"type": "point", "domain": ["Normal", "CML"], "padding": 0.54}}, "color": {"field": "group", "type": "nominal", "scale": {"domain": ["Normal", "CML"], "range": ["#0068B7", "#E60012"]}, "legend": null}},
     "layer": [
      {"mark": {"type": "rule", "strokeDash": [2, 1.5], "strokeWidth": 1.2}, "encoding": {"y": {"field": "min", "type": "quantitative", "title": "Scaled Intensity", "scale": {"domain": [0, 0.9], "nice": false}, "axis": {"values": [0, 0.1, 0.2, 0.3, 0.4, 0.5, 0.6, 0.7, 0.8, 0.9]}}, "y2": {"field": "max"}}},
      {"mark": {"type": "tick", "thickness": 1.5, "size": 14}, "encoding": {"y": {"field": "min", "type": "quantitative", "title": "Scaled Intensity", "axis": {"values": [0, 0.1, 0.2, 0.3, 0.4, 0.5, 0.6, 0.7, 0.8, 0.9]}}}},
      {"mark": {"type": "tick", "thickness": 1.5, "size": 14}, "encoding": {"y": {"field": "max", "type": "quantitative", "title": "Scaled Intensity", "axis": {"values": [0, 0.1, 0.2, 0.3, 0.4, 0.5, 0.6, 0.7, 0.8, 0.9]}}}},
      {"mark": {"type": "bar", "filled": false, "fill": "white", "strokeWidth": 1.5, "width": 36}, "encoding": {"y": {"field": "q1", "type": "quantitative", "title": "Scaled Intensity", "axis": {"values": [0, 0.1, 0.2, 0.3, 0.4, 0.5, 0.6, 0.7, 0.8, 0.9]}}, "y2": {"field": "q3"}}},
      {"mark": {"type": "tick", "thickness": 1.5, "size": 36}, "encoding": {"y": {"field": "median", "type": "quantitative", "title": "Scaled Intensity", "axis": {"values": [0, 0.1, 0.2, 0.3, 0.4, 0.5, 0.6, 0.7, 0.8, 0.9]}}}},
      {"mark": {"type": "point", "shape": "M-1,0L1,0M0,-1L0,1", "size": 20, "strokeWidth": 1.3}, "encoding": {"y": {"field": "mean", "type": "quantitative", "title": "Scaled Intensity", "axis": {"values": [0, 0.1, 0.2, 0.3, 0.4, 0.5, 0.6, 0.7, 0.8, 0.9]}}}},
      {"data": {"name": "points"}, "transform": [{"filter": "datum.panel === 'Ser-Phe'"}], "mark": {"type": "point", "filled": true, "size": 45}, "encoding": {"y": {"field": "value", "type": "quantitative", "title": "Scaled Intensity", "axis": {"values": [0, 0.1, 0.2, 0.3, 0.4, 0.5, 0.6, 0.7, 0.8, 0.9]}}}}
     ]},
    {"width": 127, "height": 165, "title": "Thr-Val *", "data": {"name": "boxes"}, "transform": [{"filter": "datum.panel === 'Thr-Val'"}],
     "encoding": {"x": {"field": "group", "type": "nominal", "title": "KLS⁺", "scale": {"type": "point", "domain": ["Normal", "CML"], "padding": 0.54}}, "color": {"field": "group", "type": "nominal", "scale": {"domain": ["Normal", "CML"], "range": ["#0068B7", "#E60012"]}, "legend": null}},
     "layer": [
      {"mark": {"type": "rule", "strokeDash": [2, 1.5], "strokeWidth": 1.2}, "encoding": {"y": {"field": "min", "type": "quantitative", "title": "Scaled Intensity", "scale": {"domain": [0, 1.4], "nice": false}, "axis": {"values": [0, 0.2, 0.4, 0.6, 0.8, 1, 1.2, 1.4]}}, "y2": {"field": "max"}}},
      {"mark": {"type": "tick", "thickness": 1.5, "size": 14}, "encoding": {"y": {"field": "min", "type": "quantitative", "title": "Scaled Intensity", "axis": {"values": [0, 0.2, 0.4, 0.6, 0.8, 1, 1.2, 1.4]}}}},
      {"mark": {"type": "tick", "thickness": 1.5, "size": 14}, "encoding": {"y": {"field": "max", "type": "quantitative", "title": "Scaled Intensity", "axis": {"values": [0, 0.2, 0.4, 0.6, 0.8, 1, 1.2, 1.4]}}}},
      {"mark": {"type": "bar", "filled": false, "fill": "white", "strokeWidth": 1.5, "width": 36}, "encoding": {"y": {"field": "q1", "type": "quantitative", "title": "Scaled Intensity", "axis": {"values": [0, 0.2, 0.4, 0.6, 0.8, 1, 1.2, 1.4]}}, "y2": {"field": "q3"}}},
      {"mark": {"type": "tick", "thickness": 1.5, "size": 36}, "encoding": {"y": {"field": "median", "type": "quantitative", "title": "Scaled Intensity", "axis": {"values": [0, 0.2, 0.4, 0.6, 0.8, 1, 1.2, 1.4]}}}},
      {"mark": {"type": "point", "shape": "M-1,0L1,0M0,-1L0,1", "size": 20, "strokeWidth": 1.3}, "encoding": {"y": {"field": "mean", "type": "quantitative", "title": "Scaled Intensity", "axis": {"values": [0, 0.2, 0.4, 0.6, 0.8, 1, 1.2, 1.4]}}}},
      {"data": {"name": "points"}, "transform": [{"filter": "datum.panel === 'Thr-Val'"}], "mark": {"type": "point", "filled": true, "size": 45}, "encoding": {"y": {"field": "value", "type": "quantitative", "title": "Scaled Intensity", "axis": {"values": [0, 0.2, 0.4, 0.6, 0.8, 1, 1.2, 1.4]}}}}
     ]},
    {"width": 127, "height": 165, "title": "Val-Leu *", "data": {"name": "boxes"}, "transform": [{"filter": "datum.panel === 'Val-Leu'"}],
     "encoding": {"x": {"field": "group", "type": "nominal", "title": "KLS⁺", "scale": {"type": "point", "domain": ["Normal", "CML"], "padding": 0.54}}, "color": {"field": "group", "type": "nominal", "scale": {"domain": ["Normal", "CML"], "range": ["#0068B7", "#E60012"]}, "legend": null}},
     "layer": [
      {"mark": {"type": "rule", "strokeDash": [2, 1.5], "strokeWidth": 1.2}, "encoding": {"y": {"field": "min", "type": "quantitative", "title": "Scaled Intensity", "scale": {"domain": [0, 2.5], "nice": false}, "axis": {"values": [0, 0.5, 1, 1.5, 2, 2.5]}}, "y2": {"field": "max"}}},
      {"mark": {"type": "tick", "thickness": 1.5, "size": 14}, "encoding": {"y": {"field": "min", "type": "quantitative", "title": "Scaled Intensity", "axis": {"values": [0, 0.5, 1, 1.5, 2, 2.5]}}}},
      {"mark": {"type": "tick", "thickness": 1.5, "size": 14}, "encoding": {"y": {"field": "max", "type": "quantitative", "title": "Scaled Intensity", "axis": {"values": [0, 0.5, 1, 1.5, 2, 2.5]}}}},
      {"mark": {"type": "bar", "filled": false, "fill": "white", "strokeWidth": 1.5, "width": 36}, "encoding": {"y": {"field": "q1", "type": "quantitative", "title": "Scaled Intensity", "axis": {"values": [0, 0.5, 1, 1.5, 2, 2.5]}}, "y2": {"field": "q3"}}},
      {"mark": {"type": "tick", "thickness": 1.5, "size": 36}, "encoding": {"y": {"field": "median", "type": "quantitative", "title": "Scaled Intensity", "axis": {"values": [0, 0.5, 1, 1.5, 2, 2.5]}}}},
      {"mark": {"type": "point", "shape": "M-1,0L1,0M0,-1L0,1", "size": 20, "strokeWidth": 1.3}, "encoding": {"y": {"field": "mean", "type": "quantitative", "title": "Scaled Intensity", "axis": {"values": [0, 0.5, 1, 1.5, 2, 2.5]}}}},
      {"data": {"name": "points"}, "transform": [{"filter": "datum.panel === 'Val-Leu'"}], "mark": {"type": "point", "filled": true, "size": 45}, "encoding": {"y": {"field": "value", "type": "quantitative", "title": "Scaled Intensity", "axis": {"values": [0, 0.5, 1, 1.5, 2, 2.5]}}}}
     ]},
    {"width": 127, "height": 165, "title": "Val-Phe *", "data": {"name": "boxes"}, "transform": [{"filter": "datum.panel === 'Val-Phe'"}],
     "encoding": {"x": {"field": "group", "type": "nominal", "title": "KLS⁺", "scale": {"type": "point", "domain": ["Normal", "CML"], "padding": 0.54}}, "color": {"field": "group", "type": "nominal", "scale": {"domain": ["Normal", "CML"], "range": ["#0068B7", "#E60012"]}, "legend": null}},
     "layer": [
      {"mark": {"type": "rule", "strokeDash": [2, 1.5], "strokeWidth": 1.2}, "encoding": {"y": {"field": "min", "type": "quantitative", "title": "Scaled Intensity", "scale": {"domain": [0, 0.9], "nice": false}, "axis": {"values": [0, 0.1, 0.2, 0.3, 0.4, 0.5, 0.6, 0.7, 0.8, 0.9]}}, "y2": {"field": "max"}}},
      {"mark": {"type": "tick", "thickness": 1.5, "size": 14}, "encoding": {"y": {"field": "min", "type": "quantitative", "title": "Scaled Intensity", "axis": {"values": [0, 0.1, 0.2, 0.3, 0.4, 0.5, 0.6, 0.7, 0.8, 0.9]}}}},
      {"mark": {"type": "tick", "thickness": 1.5, "size": 14}, "encoding": {"y": {"field": "max", "type": "quantitative", "title": "Scaled Intensity", "axis": {"values": [0, 0.1, 0.2, 0.3, 0.4, 0.5, 0.6, 0.7, 0.8, 0.9]}}}},
      {"mark": {"type": "bar", "filled": false, "fill": "white", "strokeWidth": 1.5, "width": 36}, "encoding": {"y": {"field": "q1", "type": "quantitative", "title": "Scaled Intensity", "axis": {"values": [0, 0.1, 0.2, 0.3, 0.4, 0.5, 0.6, 0.7, 0.8, 0.9]}}, "y2": {"field": "q3"}}},
      {"mark": {"type": "tick", "thickness": 1.5, "size": 36}, "encoding": {"y": {"field": "median", "type": "quantitative", "title": "Scaled Intensity", "axis": {"values": [0, 0.1, 0.2, 0.3, 0.4, 0.5, 0.6, 0.7, 0.8, 0.9]}}}},
      {"mark": {"type": "point", "shape": "M-1,0L1,0M0,-1L0,1", "size": 20, "strokeWidth": 1.3}, "encoding": {"y": {"field": "mean", "type": "quantitative", "title": "Scaled Intensity", "axis": {"values": [0, 0.1, 0.2, 0.3, 0.4, 0.5, 0.6, 0.7, 0.8, 0.9]}}}},
      {"data": {"name": "points"}, "transform": [{"filter": "datum.panel === 'Val-Phe'"}], "mark": {"type": "point", "filled": true, "size": 45}, "encoding": {"y": {"field": "value", "type": "quantitative", "title": "Scaled Intensity", "axis": {"values": [0, 0.1, 0.2, 0.3, 0.4, 0.5, 0.6, 0.7, 0.8, 0.9]}}}}
     ]},
    {"width": 127, "height": 165, "title": "Val-Val *", "data": {"name": "boxes"}, "transform": [{"filter": "datum.panel === 'Val-Val'"}],
     "encoding": {"x": {"field": "group", "type": "nominal", "title": "KLS⁺", "scale": {"type": "point", "domain": ["Normal", "CML"], "padding": 0.54}}, "color": {"field": "group", "type": "nominal", "scale": {"domain": ["Normal", "CML"], "range": ["#0068B7", "#E60012"]}, "legend": null}},
     "layer": [
      {"mark": {"type": "rule", "strokeDash": [2, 1.5], "strokeWidth": 1.2}, "encoding": {"y": {"field": "min", "type": "quantitative", "title": "Scaled Intensity", "scale": {"domain": [0, 1.6], "nice": false}, "axis": {"values": [0, 0.2, 0.4, 0.6, 0.8, 1, 1.2, 1.4, 1.6]}}, "y2": {"field": "max"}}},
      {"mark": {"type": "tick", "thickness": 1.5, "size": 14}, "encoding": {"y": {"field": "min", "type": "quantitative", "title": "Scaled Intensity", "axis": {"values": [0, 0.2, 0.4, 0.6, 0.8, 1, 1.2, 1.4, 1.6]}}}},
      {"mark": {"type": "tick", "thickness": 1.5, "size": 14}, "encoding": {"y": {"field": "max", "type": "quantitative", "title": "Scaled Intensity", "axis": {"values": [0, 0.2, 0.4, 0.6, 0.8, 1, 1.2, 1.4, 1.6]}}}},
      {"mark": {"type": "bar", "filled": false, "fill": "white", "strokeWidth": 1.5, "width": 36}, "encoding": {"y": {"field": "q1", "type": "quantitative", "title": "Scaled Intensity", "axis": {"values": [0, 0.2, 0.4, 0.6, 0.8, 1, 1.2, 1.4, 1.6]}}, "y2": {"field": "q3"}}},
      {"mark": {"type": "tick", "thickness": 1.5, "size": 36}, "encoding": {"y": {"field": "median", "type": "quantitative", "title": "Scaled Intensity", "axis": {"values": [0, 0.2, 0.4, 0.6, 0.8, 1, 1.2, 1.4, 1.6]}}}},
      {"mark": {"type": "point", "shape": "M-1,0L1,0M0,-1L0,1", "size": 20, "strokeWidth": 1.3}, "encoding": {"y": {"field": "mean", "type": "quantitative", "title": "Scaled Intensity", "axis": {"values": [0, 0.2, 0.4, 0.6, 0.8, 1, 1.2, 1.4, 1.6]}}}},
      {"data": {"name": "points"}, "transform": [{"filter": "datum.panel === 'Val-Val'"}], "mark": {"type": "point", "filled": true, "size": 45}, "encoding": {"y": {"field": "value", "type": "quantitative", "title": "Scaled Intensity", "axis": {"values": [0, 0.2, 0.4, 0.6, 0.8, 1, 1.2, 1.4, 1.6]}}}}
     ]}
  ],
  "config": {
    "font": "Liberation Sans",
    "view": {"stroke": "#231815", "strokeWidth": 3},
    "title": {"fontSize": 20, "fontWeight": "bold", "color": "#231815", "offset": -2, "anchor": "middle"},
    "point": {"opacity": 1},
    "tick": {"opacity": 1},
    "axisX": {"labelAngle": 0, "labelFontSize": 18, "labelColor": "#231815", "labelPadding": -18, "offset": 21, "ticks": false, "tickSize": 0, "domain": true, "domainColor": "#231815", "domainWidth": 1.5, "titleFontSize": 17, "titleFontWeight": "normal", "titleColor": "#231815", "titlePadding": 3, "grid": false},
    "axisY": {"titleFontSize": 12.5, "titleFontWeight": "normal", "titleColor": "#231815", "labelFontSize": 9, "labelColor": "#3e3a39", "labelOverlap": false, "tickSize": 3.5, "tickColor": "#3e3a39", "tickWidth": 0.8, "labelPadding": 0, "domain": false, "grid": false, "titlePadding": 3, "labelExpr": "datum.value == 0 ? '0' : format(datum.value, '.1f')"}
  }
}
